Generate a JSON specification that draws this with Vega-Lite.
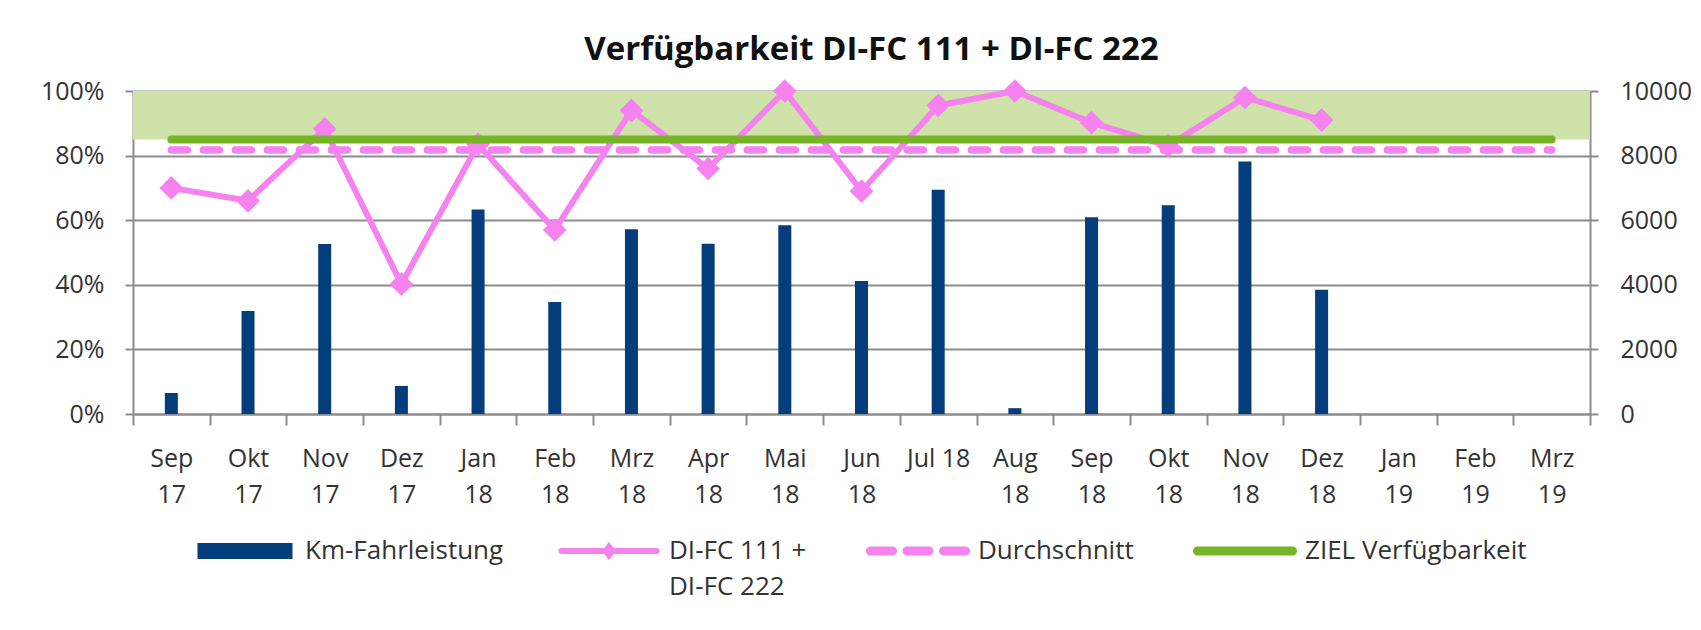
{
  "$schema": "https://vega.github.io/schema/vega-lite/v6.json",
  "width": 1457,
  "height": 323,
  "autosize": {"type": "none"},
  "padding": {"left": 133, "top": 91, "right": 111, "bottom": 216},
  "background": "white",
  "title": {"text": "Verfügbarkeit DI-FC 111 + DI-FC 222", "font": "Open Sans", "fontSize": 33, "fontWeight": "bold", "color": "#111111", "anchor": "middle", "offset": 12, "dx": 10},
  "datasets": {
    "rows": [
      {"monat": "Sep 17", "km": 650, "verf": 0.70, "avg": 0.817, "ziel": 0.85},
      {"monat": "Okt 17", "km": 3190, "verf": 0.66, "avg": 0.817, "ziel": 0.85},
      {"monat": "Nov 17", "km": 5260, "verf": 0.883, "avg": 0.817, "ziel": 0.85},
      {"monat": "Dez 17", "km": 870, "verf": 0.402, "avg": 0.817, "ziel": 0.85},
      {"monat": "Jan 18", "km": 6330, "verf": 0.835, "avg": 0.817, "ziel": 0.85},
      {"monat": "Feb 18", "km": 3470, "verf": 0.57, "avg": 0.817, "ziel": 0.85},
      {"monat": "Mrz 18", "km": 5720, "verf": 0.94, "avg": 0.817, "ziel": 0.85},
      {"monat": "Apr 18", "km": 5270, "verf": 0.76, "avg": 0.817, "ziel": 0.85},
      {"monat": "Mai 18", "km": 5840, "verf": 1.0, "avg": 0.817, "ziel": 0.85},
      {"monat": "Jun 18", "km": 4120, "verf": 0.69, "avg": 0.817, "ziel": 0.85},
      {"monat": "Jul 18", "km": 6940, "verf": 0.955, "avg": 0.817, "ziel": 0.85},
      {"monat": "Aug 18", "km": 180, "verf": 1.0, "avg": 0.817, "ziel": 0.85},
      {"monat": "Sep 18", "km": 6090, "verf": 0.902, "avg": 0.817, "ziel": 0.85},
      {"monat": "Okt 18", "km": 6460, "verf": 0.83, "avg": 0.817, "ziel": 0.85},
      {"monat": "Nov 18", "km": 7820, "verf": 0.98, "avg": 0.817, "ziel": 0.85},
      {"monat": "Dez 18", "km": 3850, "verf": 0.91, "avg": 0.817, "ziel": 0.85},
      {"monat": "Jan 19", "km": null, "verf": null, "avg": 0.817, "ziel": 0.85},
      {"monat": "Feb 19", "km": null, "verf": null, "avg": 0.817, "ziel": 0.85},
      {"monat": "Mrz 19", "km": null, "verf": null, "avg": 0.817, "ziel": 0.85}
    ],
    "band": [{"lo": 0.85, "hi": 1.0}]
  },
  "data": {"name": "rows"},
  "layer": [
    {
      "layer": [
        {
          "data": {"name": "band"},
          "mark": {"type": "rect", "color": "#cfe2a9"},
          "encoding": {
            "y": {"field": "lo", "type": "quantitative", "scale": {"domain": [0, 1], "nice": false},
              "axis": {"orient": "left", "title": null, "values": [0, 0.2, 0.4, 0.6, 0.8, 1.0], "format": ".0%", "grid": true, "gridColor": "#8c8c8c", "gridWidth": 2, "domain": true, "domainColor": "#8c8c8c", "domainWidth": 2, "ticks": true, "tickSize": 8, "tickWidth": 2, "tickColor": "#8c8c8c", "labelPadding": 21, "labelFont": "Open Sans", "labelFontSize": 25, "labelColor": "#333333"}},
            "y2": {"field": "hi"}
          }
        },
        {
          "mark": {"type": "line", "strokeWidth": 6, "point": {"shape": "diamond", "size": 560, "filled": true, "opacity": 1}},
          "encoding": {
            "x": {"field": "monat", "type": "ordinal", "sort": null, "title": null,
              "scale": {"type": "band", "domain": ["Sep 17","Okt 17","Nov 17","Dez 17","Jan 18","Feb 18","Mrz 18","Apr 18","Mai 18","Jun 18","Jul 18","Aug 18","Sep 18","Okt 18","Nov 18","Dez 18","Jan 19","Feb 19","Mrz 19"], "paddingInner": 0, "paddingOuter": 0},
              "axis": {"labelExpr": "isValid(datum.value) ? (datum.value == 'Jul 18' ? datum.value : split(datum.value, ' ')) : ''", "labelAngle": 0, "labelFont": "Open Sans", "labelFontSize": 25, "labelLineHeight": 36, "labelPadding": 21, "labelColor": "#333333", "tickBand": "extent", "tickSize": 11, "tickWidth": 2, "tickColor": "#8c8c8c", "domainColor": "#8c8c8c", "domainWidth": 2, "grid": false}},
            "y": {"field": "verf", "type": "quantitative", "scale": {"domain": [0, 1], "nice": false}},
            "color": {"datum": "DI-FC 111 + DI-FC 222", "type": "nominal",
              "scale": {"domain": ["Km-Fahrleistung", "DI-FC 111 + DI-FC 222", "Durchschnitt", "ZIEL Verfügbarkeit"], "range": ["#033d7c", "#f582ee", "#f582ee", "#78b428"]},
              "legend": {"orient": "bottom", "direction": "horizontal", "title": null, "symbolSize": 9025, "symbolStrokeWidth": 8, "labelFont": "Open Sans", "labelFontSize": 26, "labelColor": "#333333", "labelOffset": 82, "columnPadding": 45, "offset": 31, "labelLimit": 500, "labelBaseline": "middle",
                "labelExpr": "datum.label == 'DI-FC 111 + DI-FC 222' ? ['DI-FC 111 +', 'DI-FC 222'] : [datum.label, ' ']",
                "encode": {
                  "labels": {"update": {"lineHeight": {"value": 36}}},
                  "symbols": {"update": {
                    "x": {"value": 48},
                    "size": {"value": 9025},
                    "shape": {"signal": "datum.value == 'Km-Fahrleistung' ? 'M-1,-0.17H1V0.17H-1Z' : datum.value == 'DI-FC 111 + DI-FC 222' ? 'M-1,0H1M0,-0.09L0.07,0L0,0.09L-0.07,0Z' : 'M-1,0H1'"},
                    "fill": {"signal": "datum.value == 'Km-Fahrleistung' ? '#033d7c' : datum.value == 'DI-FC 111 + DI-FC 222' ? '#f582ee' : 'transparent'"},
                    "stroke": {"signal": "datum.value == 'Km-Fahrleistung' ? 'transparent' : datum.value == 'ZIEL Verfügbarkeit' ? '#78b428' : '#f582ee'"},
                    "strokeWidth": {"signal": "datum.value == 'Km-Fahrleistung' ? 0 : datum.value == 'DI-FC 111 + DI-FC 222' ? 6 : 9"},
                    "strokeDash": {"signal": "datum.value == 'Durchschnitt' ? [22, 14.5] : [1, 0]"},
                    "strokeCap": {"value": "round"},
                    "opacity": {"value": 1},
                    "fillOpacity": {"value": 1},
                    "strokeOpacity": {"value": 1}
                  }}
                }
              }
            }
          }
        },
        {
          "mark": {"type": "line", "strokeWidth": 7.5, "strokeDash": [16, 16], "strokeCap": "round"},
          "encoding": {
            "x": {"field": "monat", "type": "ordinal", "sort": null, "scale": {"type": "band"}},
            "y": {"field": "avg", "type": "quantitative"},
            "color": {"datum": "Durchschnitt", "type": "nominal"}
          }
        },
        {
          "mark": {"type": "line", "strokeWidth": 8, "strokeCap": "round"},
          "encoding": {
            "x": {"field": "monat", "type": "ordinal", "sort": null, "scale": {"type": "band"}},
            "y": {"field": "ziel", "type": "quantitative"},
            "color": {"datum": "ZIEL Verfügbarkeit", "type": "nominal"}
          }
        }
      ]
    },
    {
      "mark": {"type": "bar", "size": 13},
      "encoding": {
        "x": {"field": "monat", "type": "ordinal", "sort": null, "scale": {"type": "band"}},
        "y": {"field": "km", "type": "quantitative", "scale": {"domain": [0, 10000], "nice": false},
          "axis": {"orient": "right", "title": null, "values": [0, 2000, 4000, 6000, 8000, 10000], "format": "d", "grid": false, "domain": true, "domainColor": "#8c8c8c", "domainWidth": 2, "ticks": true, "tickSize": 8, "tickWidth": 2, "tickColor": "#8c8c8c", "labelPadding": 22, "labelFont": "Open Sans", "labelFontSize": 25, "labelColor": "#333333"}},
        "color": {"datum": "Km-Fahrleistung", "type": "nominal"}
      }
    }
  ],
  "resolve": {"scale": {"y": "independent"}},
  "config": {
    "view": {"stroke": null},
    "font": "Open Sans",
    "legend": {"layout": {"bottom": {"anchor": "middle"}}}
  }
}
